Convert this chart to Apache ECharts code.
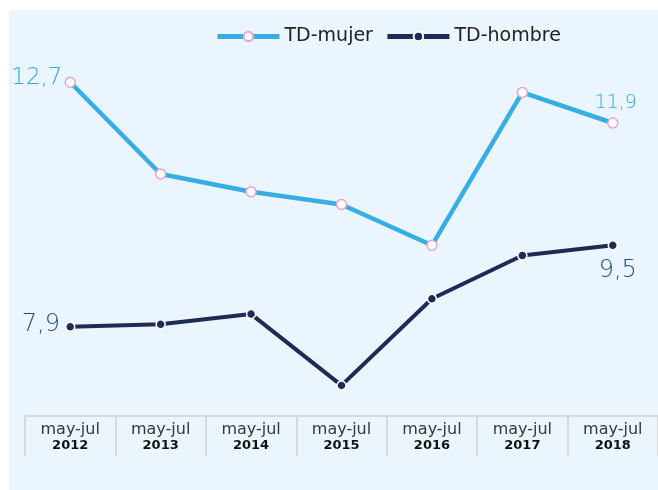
<!DOCTYPE html>
<html>
<head>
<meta charset="utf-8">
<script src="https://cdn.jsdelivr.net/npm/echarts@6/dist/echarts.min.js"></script>
<style>
html,body{margin:0;padding:0;background:#fff;}
#c{width:658px;height:490px;}
</style>
</head>
<body>
<div id="c"></div>
<script>
var categories = ['2012','2013','2014','2015','2016','2017','2018'];
var periodLabel = 'may-jul';
var tdMujer = [12.7, 10.9, 10.55, 10.3, 9.5, 12.5, 11.9];
var tdHombre = [7.9, 7.95, 8.15, 6.75, 8.45, 9.3, 9.5];

function fmt(v){ return String(v.toFixed(1)).replace('.', ','); }

var mujerColor = '#36ade3';
var hombreColor = '#1f2a55';
var lightFont = "'DejaVu Sans ExtraLight', 'DejaVu Sans'";

function buildData(arr, labelCfg){
  return arr.map(function(v, i){
    var d = {value: v};
    if (labelCfg[i]) d.label = Object.assign({show: true, fontFamily: lightFont, fontWeight: 200, formatter: function(p){ return fmt(p.value); }}, labelCfg[i]);
    return d;
  });
}

var mujerData = buildData(tdMujer, {
  0: {position: 'left', distance: 2, fontSize: 23, color: '#29abe2', offset: [0, -4]},
  6: {position: 'top', distance: 6, fontSize: 19, color: '#29abe2', offset: [3, 1]}
});
var hombreData = buildData(tdHombre, {
  0: {position: 'left', distance: 5, fontSize: 24, color: '#1f4f7a', offset: [0, -2]},
  6: {position: 'bottom', distance: 8, fontSize: 24, color: '#1f4f7a', offset: [5, 0]}
});

var chart = echarts.init(document.getElementById('c'));
chart.setOption({
  backgroundColor: 'transparent',
  textStyle: {fontFamily: 'DejaVu Sans'},
  graphic: [{
    type: 'rect', left: 9, top: 10, z: -100, silent: true,
    shape: {width: 649, height: 480},
    style: {fill: '#eaf5fe'}
  }],
  legend: {
    top: 22, left: 210, itemWidth: 62, itemHeight: 12, itemGap: 12,
    lineStyle: {width: 5},
    textStyle: {fontSize: 19, color: '#222', fontFamily: 'DejaVu Sans'},
    data: ['TD-mujer', 'TD-hombre']
  },
  grid: {left: 25, width: 636, top: 16, height: 400},
  xAxis: {
    type: 'category', data: categories, boundaryGap: true,
    axisLine: {show: true, lineStyle: {color: '#d9d9d9', width: 2}},
    axisTick: {show: true, length: 40, lineStyle: {color: '#d9d9d9', width: 2}},
    axisLabel: {
      margin: 6, interval: 0,
      formatter: function(v){ return '{a|' + periodLabel + '}\n{b|' + v + '}'; },
      rich: {
        a: {fontSize: 16, color: '#383838', fontFamily: 'DejaVu Sans', lineHeight: 16},
        b: {fontSize: 13, color: '#111', fontWeight: 'bold', fontFamily: 'DejaVu Sans', lineHeight: 16}
      }
    }
  },
  yAxis: {type: 'value', min: 6.15, max: 14, show: false, splitLine: {show: false}},
  series: [{
    name: 'TD-mujer', type: 'line', data: mujerData,
    symbol: 'circle', symbolSize: 10,
    lineStyle: {color: mujerColor, width: 4.5},
    itemStyle: {color: '#fff', borderColor: '#e7a3c8', borderWidth: 1.5},
    label: {show: false},
    z: 3
  }, {
    name: 'TD-hombre', type: 'line', data: hombreData,
    symbol: 'circle', symbolSize: 9,
    lineStyle: {color: hombreColor, width: 4},
    itemStyle: {color: hombreColor, borderColor: '#fff', borderWidth: 1.5},
    label: {show: false},
    z: 3
  }]
});
</script>
</body>
</html>
